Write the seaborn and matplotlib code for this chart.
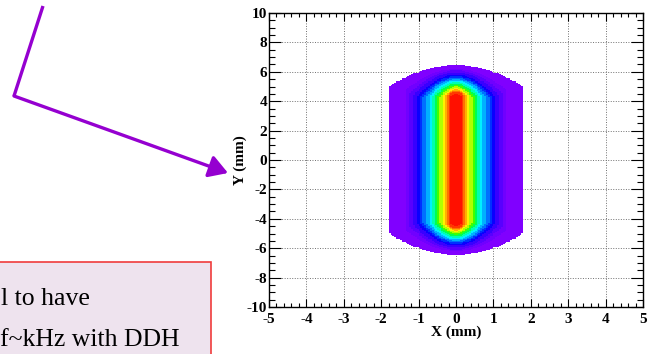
import numpy as np
import matplotlib
matplotlib.use("Agg")
import matplotlib.pyplot as plt
from matplotlib.colors import ListedColormap
from matplotlib.patches import Rectangle, FancyArrowPatch
from matplotlib.lines import Line2D
import seaborn as sns

# ---- data ----
# Beam-spot intensity bands (outer -> inner): half width in X, half length
# of the straight part in Y, and full half length in Y (mm)
band_half_width = [1.79, 1.36, 1.25, 1.15, 1.04, 0.95, 0.88, 0.80, 0.72,
                   0.64, 0.56, 0.49, 0.43, 0.37, 0.32, 0.27, 0.22, 0.15]
band_flat_half_len = [5.00, 4.70, 4.50, 4.40, 4.30, 4.30, 4.30, 4.30, 4.30,
                      4.30, 4.30, 4.30, 4.30, 4.30, 4.30, 4.30, 4.30, 4.30]
band_half_len = [6.45, 6.20, 6.10, 5.95, 5.80, 5.70, 5.60, 5.50, 5.40,
                 5.30, 5.18, 5.08, 4.98, 4.88, 4.80, 4.72, 4.64, 4.50]
band_colors = ["#8000FF", "#7000FF", "#5800FF", "#3800FF", "#0A00FF", "#0030FF",
               "#0070FF", "#00B0FF", "#00F0FF", "#00FFB0", "#00FF50", "#40FF00",
               "#B0FF00", "#FFF000", "#FFB000", "#FF7000", "#FF3800", "#FF1000"]

x_ticks = [-5, -4, -3, -2, -1, 0, 1, 2, 3, 4, 5]
y_ticks = [-10, -8, -6, -4, -2, 0, 2, 4, 6, 8, 10]
x_label = "X (mm)"
y_label = "Y (mm)"
box_lines = ["l to have", "f~kHz with DDH"]

# ---- build the 2D histogram cells from the bands ----
step = 0.05
x_edges = np.arange(-5, 5 + step / 2, step)
y_edges = np.arange(-10, 10 + step / 2, step)
xc = (x_edges[:-1] + x_edges[1:]) / 2
yc = (y_edges[:-1] + y_edges[1:]) / 2
XX, YY = np.meshgrid(xc, yc, indexing="ij")
level = np.zeros_like(XX)
for i, (w, f, h) in enumerate(zip(band_half_width, band_flat_half_len, band_half_len)):
    ax_ = np.abs(XX) / w
    top = f + (h - f) * np.clip(1 - ax_ ** 2, 0, None)
    inside = (ax_ <= 1) & (np.abs(YY) <= top)
    level[inside] = i + 1

cmap = ListedColormap(band_colors)
nb = len(band_colors)

fig = plt.figure(figsize=(6.54, 3.54), dpi=100)
W, H = 654, 354
ax = fig.add_axes([269 / W, 47 / H, 374 / W, 294 / H])

sns.histplot(x=XX.ravel(), y=YY.ravel(), weights=level.ravel(), bins=[x_edges, y_edges],
             cmap=cmap, vmin=0.5, vmax=nb + 0.5, cbar=False, ax=ax)

ax.set_xlim(-5, 5)
ax.set_ylim(-10, 10)
ax.set_xticks(x_ticks)
ax.set_yticks(y_ticks)
ax.set_xticks(np.arange(-5, 5.01, 0.2), minor=True)
ax.set_yticks(np.arange(-10, 10.01, 0.5), minor=True)
ax.set_xticklabels([str(v) for v in x_ticks])
ax.set_yticklabels([str(v) for v in y_ticks])
ax.set_axisbelow(True)
ax.grid(which="major", color="#707070", linestyle=(0, (1, 1.6)), linewidth=0.7)

serif = ["Liberation Serif", "DejaVu Serif"]
for lab in ax.get_xticklabels() + ax.get_yticklabels():
    lab.set_fontfamily(serif)
    lab.set_fontweight("bold")
    lab.set_fontsize(11)
ax.tick_params(axis="x", which="major", direction="in", top=True, length=6, width=0.8, pad=4)
ax.tick_params(axis="x", which="minor", direction="in", top=True, length=3, width=0.8)
ax.tick_params(axis="y", which="major", direction="in", right=True, length=8.5, width=0.8, pad=1.5)
ax.tick_params(axis="y", which="minor", direction="in", right=True, length=4.3, width=0.8)
for s in ax.spines.values():
    s.set_linewidth(1.0)
    s.set_color("black")

ax.set_xlabel(x_label, fontfamily=serif, fontweight="bold", fontsize=11, labelpad=0)
ax.set_ylabel(y_label, fontfamily=serif, fontweight="bold", fontsize=11, labelpad=0)

# ---- slide decorations: purple arrow and text box ----
def fp(px, py):
    return (px / W, (H - py) / H)

arrow_col = "#9500D0"
p0, p1, p2 = fp(43, 6), fp(14, 96), fp(228, 173)
fig.add_artist(Line2D([p0[0], p1[0]], [p0[1], p1[1]], transform=fig.transFigure,
                      color=arrow_col, lw=2.4, solid_capstyle="butt"))
fig.add_artist(FancyArrowPatch(p1, p2, transform=fig.transFigure, color=arrow_col, lw=2.4,
                               arrowstyle="-|>,head_length=7.5,head_width=4.5", mutation_scale=1.5,
                               shrinkA=0, shrinkB=0))

bx0, by0 = fp(-5, 380)
bx1, by1 = fp(211, 262)
fig.add_artist(Rectangle((bx0, by0), bx1 - bx0, by1 - by0, transform=fig.transFigure,
                         facecolor="#EEE3EE", edgecolor="#F03C3C", lw=1.2))
fig.text(*fp(1, 305), box_lines[0], fontfamily=serif, fontsize=18.5, color="black", va="baseline")
fig.text(*fp(0, 346), box_lines[1], fontfamily=serif, fontsize=18.5, color="black", va="baseline")

fig.savefig("out.png", dpi=100)
